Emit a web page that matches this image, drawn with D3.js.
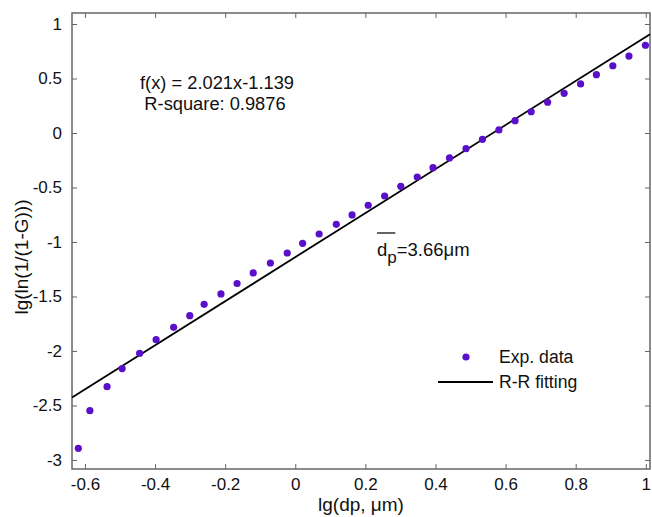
<!DOCTYPE html>
<html>
<head>
<meta charset="utf-8">
<script src="https://cdn.jsdelivr.net/npm/d3@7"></script>
<style>
  body { margin: 0; background: #fff; }
  svg { font-family: "Liberation Sans", Arial, sans-serif; }
</style>
</head>
<body>
<svg id="chart" width="652" height="517"></svg>
<script>
const xData = [-0.619, -0.586, -0.537, -0.494, -0.444, -0.397, -0.347, -0.301, -0.260, -0.212,
  -0.166, -0.120, -0.071, -0.023, 0.021, 0.068, 0.117, 0.162, 0.208, 0.255,
  0.301, 0.348, 0.393, 0.440, 0.487, 0.534, 0.581, 0.627, 0.673, 0.720,
  0.767, 0.814, 0.859, 0.906, 0.952, 0.999]
const yData = [-2.893, -2.548, -2.328, -2.162, -2.021, -1.896, -1.783, -1.676, -1.572, -1.477,
  -1.381, -1.284, -1.193, -1.101, -1.012, -0.927, -0.838, -0.752, -0.663, -0.578,
  -0.489, -0.404, -0.318, -0.229, -0.144, -0.058, 0.028, 0.113, 0.195, 0.282,
  0.364, 0.450, 0.535, 0.617, 0.706, 0.805]

// R-R fit
const slope = 2.021
const intercept = -1.139

const xTicks = [-0.6, -0.4, -0.2, 0, 0.2, 0.4, 0.6, 0.8, 1]
const yTicks = [1, 0.5, 0, -0.5, -1, -1.5, -2, -2.5, -3]

const margin = {top: 13, right: 2, bottom: 48, left: 72}
const width = 652, height = 517

const svg = d3.select('#chart')

const x = d3.scaleLinear()
  .domain([-0.637, 1.012])
  .range([margin.left, width - margin.right])

const y = d3.scaleLinear()
  .domain([-3.083, 1.101])
  .range([height - margin.bottom, margin.top])

const fmt = d => d3.format('')(d).replace('−', '-')
const frameColor = '#666'

// bottom axis
svg.append('g')
  .attr('transform', 'translate(0,' + (height - margin.bottom) + ')')
  .call(d3.axisBottom(x).tickValues(xTicks).tickFormat(fmt).tickSizeInner(-5).tickSizeOuter(0).tickPadding(9))
  .call(g => g.select('.domain').remove())
  .call(g => g.selectAll('line').attr('stroke', frameColor))
  .call(g => g.selectAll('text').attr('font-size', 17).attr('fill', '#111'))

// left axis
svg.append('g')
  .attr('transform', 'translate(' + margin.left + ',0)')
  .call(d3.axisLeft(y).tickValues(yTicks).tickFormat(fmt).tickSizeInner(-5).tickSizeOuter(0).tickPadding(10))
  .call(g => g.select('.domain').remove())
  .call(g => g.selectAll('line').attr('stroke', frameColor))
  .call(g => g.selectAll('text').attr('font-size', 17).attr('fill', '#111'))

// top and right ticks
svg.append('g')
  .attr('transform', 'translate(0,' + margin.top + ')')
  .call(d3.axisTop(x).tickValues(xTicks).tickFormat('').tickSizeInner(-5).tickSizeOuter(0))
  .call(g => g.select('.domain').remove())
  .call(g => g.selectAll('line').attr('stroke', frameColor))

svg.append('g')
  .attr('transform', 'translate(' + (width - margin.right) + ',0)')
  .call(d3.axisRight(y).tickValues(yTicks).tickFormat('').tickSizeInner(-5).tickSizeOuter(0))
  .call(g => g.select('.domain').remove())
  .call(g => g.selectAll('line').attr('stroke', frameColor))

// frame
svg.append('rect')
  .attr('x', margin.left)
  .attr('y', margin.top)
  .attr('width', width - margin.left - margin.right)
  .attr('height', height - margin.top - margin.bottom)
  .attr('fill', 'none')
  .attr('stroke', frameColor)
  .attr('stroke-width', 1.5)

// fit line
const xd = x.domain()
svg.append('line')
  .attr('x1', x(xd[0])).attr('y1', y(slope * xd[0] + intercept))
  .attr('x2', x(xd[1])).attr('y2', y(slope * xd[1] + intercept))
  .attr('stroke', '#000')
  .attr('stroke-width', 1.8)

// points
svg.append('g')
  .attr('fill', '#5a10c8')
  .selectAll('circle')
  .data(xData)
  .join('circle')
    .attr('cx', d => x(d))
    .attr('cy', (d, i) => y(yData[i]))
    .attr('r', 3.6)

// axis titles
svg.append('text')
  .attr('x', 361).attr('y', 511)
  .attr('text-anchor', 'middle')
  .attr('font-size', 19)
  .attr('fill', '#111')
  .text('lg(dp, μm)')

svg.append('text')
  .attr('transform', 'translate(28,257) rotate(-90)')
  .attr('text-anchor', 'middle')
  .attr('font-size', 19)
  .attr('fill', '#111')
  .text('lg(ln(1/(1-G)))')

// fit annotation
const ann = svg.append('text')
  .attr('text-anchor', 'middle')
  .attr('font-size', 18.3)
  .attr('fill', '#111')
ann.append('tspan').attr('x', 217).attr('y', 89).text('f(x) = 2.021x-1.139')
ann.append('tspan').attr('x', 215).attr('y', 110).text('R-square: 0.9876')

// mean diameter label
const dp = svg.append('text')
  .attr('x', 377).attr('y', 256)
  .attr('font-size', 18.5)
  .attr('fill', '#111')
const dChar = dp.append('tspan').text('d')
dp.append('tspan').attr('font-size', 17).attr('dy', 7).text('p')
dp.append('tspan').attr('dy', -7).text('=3.66μm')
const dw = dChar.node().getComputedTextLength()
svg.append('line')
  .attr('x1', 377).attr('x2', 377 + dw + 8)
  .attr('y1', 233).attr('y2', 233)
  .attr('stroke', '#111')
  .attr('stroke-width', 1.3)

// legend
const legend = svg.append('g').attr('font-size', 17.6).attr('fill', '#111')
legend.append('circle').attr('cx', 466).attr('cy', 357).attr('r', 3.6).attr('fill', '#5a10c8')
legend.append('text').attr('x', 499).attr('y', 363).text('Exp. data')
legend.append('line').attr('x1', 438).attr('x2', 493).attr('y1', 382).attr('y2', 382)
  .attr('stroke', '#000').attr('stroke-width', 1.8)
legend.append('text').attr('x', 499).attr('y', 388).text('R-R fitting')
</script>
</body>
</html>
